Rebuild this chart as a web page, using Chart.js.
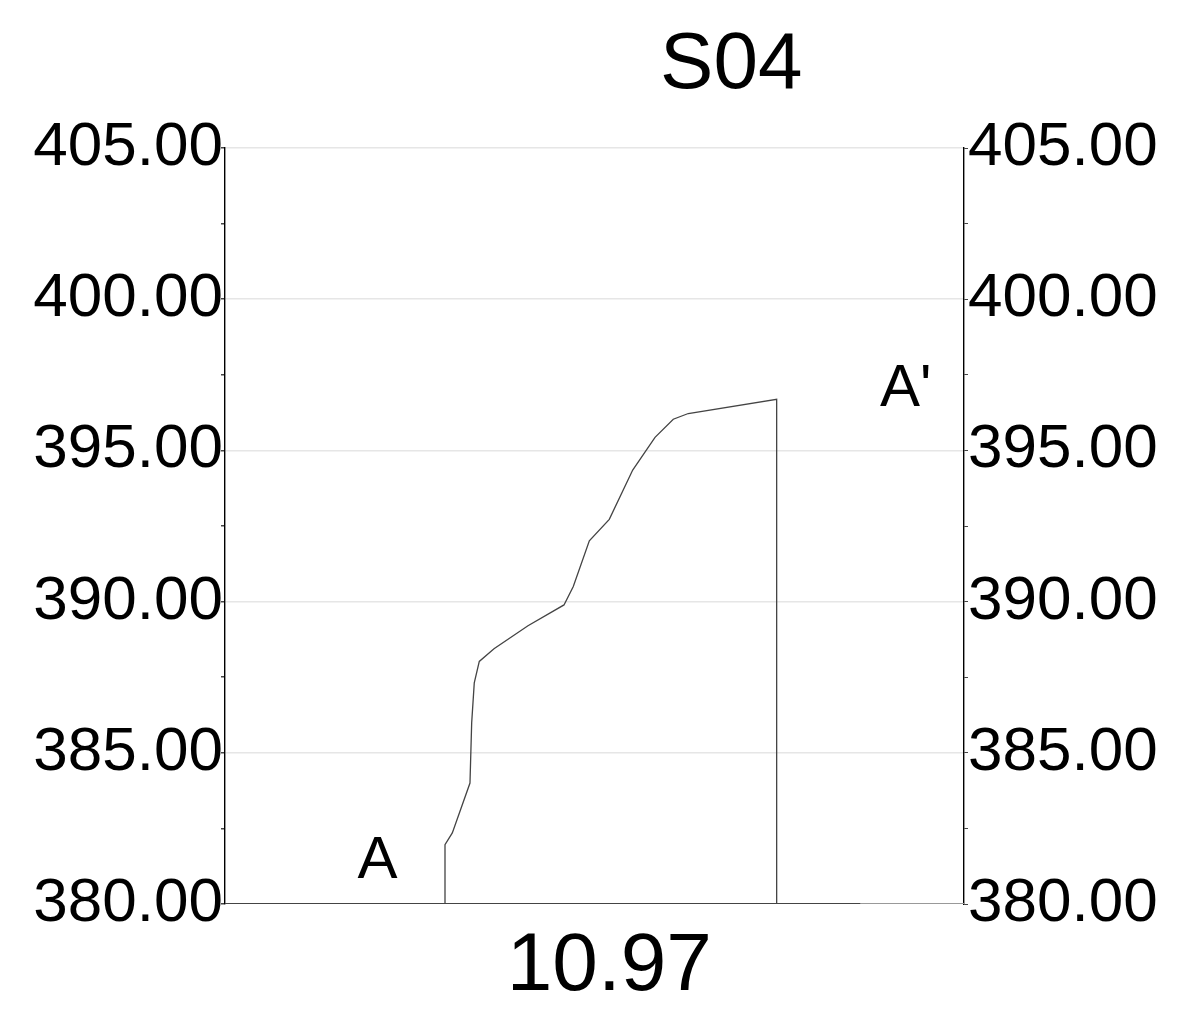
<!DOCTYPE html>
<html>
<head>
<meta charset="utf-8">
<script src="https://cdn.jsdelivr.net/npm/chart.js@4/dist/chart.umd.min.js"></script>
<style>
  html, body { margin: 0; padding: 0; background: #fff; }
  #wrap { width: 1197px; height: 1011px; }
</style>
</head>
<body>
<div id="wrap"><canvas id="myChart" width="1197" height="1011"></canvas></div>
<script>
// section profile S04 (distance along section, elevation)
const profileX = [29.77, 29.77, 30.76, 33.15, 33.38, 33.73, 34.41, 36.40, 41.00, 45.87, 47.13, 49.30, 52.00, 55.17, 58.19, 60.66, 62.69, 74.65, 74.65];
const profileY = [380.00, 381.96, 382.35, 384.00, 385.99, 387.31, 388.02, 388.44, 389.20, 389.89, 390.50, 392.01, 392.72, 394.35, 395.43, 396.03, 396.22, 396.69, 380.00];
const groundX = [0, 86];
const groundY = [380, 380];
const groundX2 = [86, 100];
const groundY2 = [380, 380];
const yTicks = [380, 385, 390, 395, 400, 405];
const title = "S04";
const sectionLength = "10.97";
const marks = [
  { text: "A", x: 20.64, y: 380.87, align: "center" },
  { text: "A'", x: 88.63, y: 396.47, align: "left" }
];

const toPoints = (xs, ys) => xs.map((x, i) => ({ x: x, y: ys[i] }));

const textPlugin = {
  id: "sectionText",
  afterDraw(chart) {
    const ctx = chart.ctx;
    const area = chart.chartArea;
    const sx = chart.scales.x;
    const sy = chart.scales.y;
    ctx.save();
    ctx.fillStyle = "#000";
    ctx.textBaseline = "alphabetic";
    ctx.font = "80px 'Liberation Sans', Arial, sans-serif";
    ctx.textAlign = "center";
    ctx.fillText(title, area.left + (area.right - area.left) * 0.685, 88);
    ctx.font = "82px 'Liberation Sans', Arial, sans-serif";
    ctx.fillText(sectionLength, area.left + (area.right - area.left) * 0.52, 990);
    ctx.font = "60px 'Liberation Sans', Arial, sans-serif";
    marks.forEach(m => {
      ctx.textAlign = m.align;
      ctx.fillText(m.text, sx.getPixelForValue(m.x), sy.getPixelForValue(m.y));
    });
    ctx.restore();
  }
};

const tickFont = { family: "'Liberation Sans', Arial, sans-serif", size: 62 };

new Chart(document.getElementById("myChart").getContext("2d"), {
  type: "line",
  data: {
    datasets: [
      { data: toPoints(groundX, groundY), borderColor: "#444", borderWidth: 1.8, pointRadius: 0, tension: 0 },
      { data: toPoints(groundX2, groundY2), borderColor: "#999", borderWidth: 1.8, pointRadius: 0, tension: 0 },
      { data: toPoints(profileX, profileY), borderColor: "#444", borderWidth: 1.3, pointRadius: 0, tension: 0 }
    ]
  },
  options: {
    responsive: false,
    animation: false,
    layout: { padding: { top: 148, bottom: 107, left: 0, right: 0 } },
    plugins: { legend: { display: false }, tooltip: { enabled: false }, title: { display: false } },
    scales: {
      x: { type: "linear", min: 0, max: 100, display: false },
      y: {
        position: "left",
        min: 380, max: 405,
        afterFit(s) { s.width = 225; },
        afterBuildTicks(s) {
          const t = [];
          for (let v = 380; v <= 405; v += 2.5) t.push({ value: v });
          s.ticks = t;
        },
        ticks: {
          font: tickFont, color: "#000", padding: -2, autoSkip: false,
          callback: v => yTicks.includes(v) ? v.toFixed(2) : ""
        },
        grid: {
          color: c => (c.tick && yTicks.includes(c.tick.value) && c.tick.value !== 380) ? "#e6e6e6" : "rgba(0,0,0,0)",
          tickColor: "#444", tickLength: 4, lineWidth: 1.5
        },
        border: { color: "#000", width: 1.4 }
      },
      y2: {
        position: "right",
        min: 380, max: 405,
        afterFit(s) { s.width = 233; },
        afterBuildTicks(s) {
          const t = [];
          for (let v = 380; v <= 405; v += 2.5) t.push({ value: v });
          s.ticks = t;
        },
        ticks: {
          font: tickFont, color: "#000", padding: 0, autoSkip: false,
          callback: v => yTicks.includes(v) ? v.toFixed(2) : ""
        },
        grid: { drawOnChartArea: false, tickColor: "#444", tickLength: 4 },
        border: { color: "#000", width: 1.4 }
      }
    }
  },
  plugins: [textPlugin]
});
</script>
</body>
</html>
